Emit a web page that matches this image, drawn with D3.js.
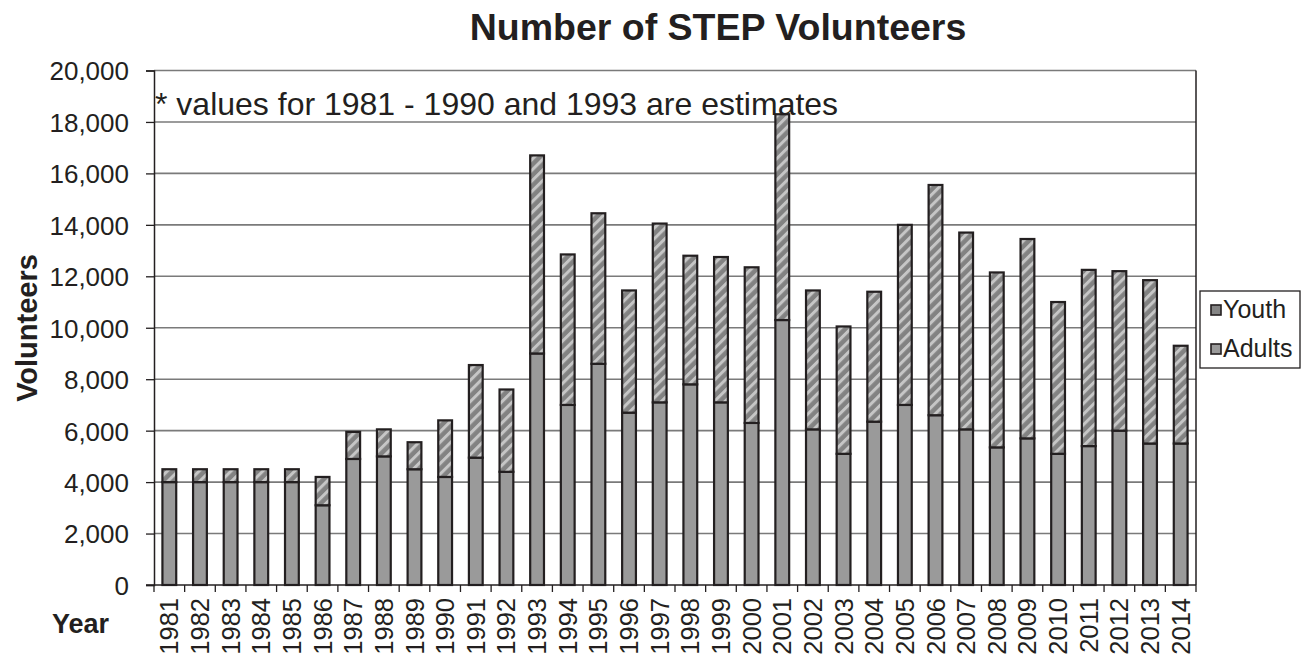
<!DOCTYPE html>
<html><head><meta charset="utf-8">
<script src="https://cdn.jsdelivr.net/npm/d3@7"></script>
<style>body{margin:0;background:#fff}svg{display:block;font-family:Arial,"Liberation Sans",sans-serif}</style>
</head><body><svg id="c" width="1306" height="662"></svg>
<script>
const years = ["1981","1982","1983","1984","1985","1986","1987","1988","1989","1990","1991","1992","1993","1994","1995","1996","1997","1998","1999","2000","2001","2002","2003","2004","2005","2006","2007","2008","2009","2010","2011","2012","2013","2014"];
const adults = [4000,4000,4000,4000,4000,3100,4900,5000,4500,4200,4950,4400,9000,7000,8600,6700,7100,7800,7100,6300,10300,6050,5100,6350,7000,6600,6050,5350,5700,5100,5400,6000,5500,5500];
const youth = [500,500,500,500,500,1100,1050,1050,1050,2200,3600,3200,7700,5850,5850,4750,6950,5000,5650,6050,8000,5400,4950,5050,7000,8950,7650,6800,7750,5900,6850,6200,6350,3800];
const yTicks = [0,2000,4000,6000,8000,10000,12000,14000,16000,18000,20000];
const seriesNames = ["Youth","Adults"];

const FONT = "Arial, 'Liberation Sans', sans-serif";
const INK = "#231f20";
const svg = d3.select("#c");
const L=154, R=1196, T=70.5, B=585;
const x = d3.scaleBand().domain(years).range([L,R]).paddingInner(0.55).paddingOuter(0.275);
const y = d3.scaleLinear().domain([0,20000]).range([B,T]);

const defs = svg.append("defs");
const pat = defs.append("pattern").attr("id","hatch").attr("patternUnits","userSpaceOnUse")
  .attr("width",7.5).attr("height",7.5).attr("patternTransform","rotate(45)");
pat.append("rect").attr("width",7.5).attr("height",7.5).attr("fill","#828282");
pat.append("rect").attr("x",0).attr("width",3).attr("height",7.5).attr("fill","#c6c6c6");

// gridlines
svg.append("g").selectAll("line").data(yTicks.filter(d=>d>0)).join("line")
  .attr("x1",L).attr("x2",R).attr("y1",d=>y(d)).attr("y2",d=>y(d))
  .attr("stroke","#7a7a7a").attr("stroke-width",1.6);

// y axis
const ya = svg.append("g").attr("transform",`translate(${L},0)`)
  .call(d3.axisLeft(y).tickValues(yTicks).tickFormat(d3.format(",")).tickSize(8).tickPadding(17));
ya.select(".domain").attr("stroke",INK).attr("stroke-width",1.5);
ya.selectAll(".tick line").attr("stroke",INK).attr("stroke-width",1.3);
ya.selectAll("text").attr("font-size",26).attr("fill",INK).attr("font-family",FONT).attr("dy","0.36em");

// right border
svg.append("line").attr("x1",R).attr("x2",R).attr("y1",T).attr("y2",B).attr("stroke",INK).attr("stroke-width",1.5);

// bars
const stack = years.map((yr,i)=>({yr, a:adults[i], t:adults[i]+youth[i]}));
const g = svg.append("g");
g.selectAll("rect.ad").data(stack).join("rect").attr("class","ad")
  .attr("x",d=>x(d.yr)).attr("width",x.bandwidth()).attr("y",d=>y(d.a)).attr("height",d=>B-y(d.a))
  .attr("fill","#9a9a9a").attr("stroke",INK).attr("stroke-width",2.2);
g.selectAll("rect.yo").data(stack).join("rect").attr("class","yo")
  .attr("x",d=>x(d.yr)).attr("width",x.bandwidth()).attr("y",d=>y(d.t)).attr("height",d=>y(d.a)-y(d.t))
  .attr("fill","url(#hatch)").attr("stroke",INK).attr("stroke-width",2.2);

// x axis
const xa = svg.append("g").attr("transform",`translate(0,${B})`)
  .call(d3.axisBottom(x).tickSize(0).tickPadding(0));
xa.select(".domain").remove();
svg.append("line").attr("x1",L-8).attr("x2",R).attr("y1",B).attr("y2",B).attr("stroke",INK).attr("stroke-width",1.5);
const bounds = years.map((d,i)=>L + (R-L)*i/years.length).concat([R]);
svg.append("g").selectAll("line").data(bounds).join("line")
  .attr("x1",d=>d).attr("x2",d=>d).attr("y1",B).attr("y2",B+7).attr("stroke",INK).attr("stroke-width",1.3);
xa.selectAll(".tick text").attr("font-size",25.5).attr("fill",INK)
  .attr("font-family",FONT)
  .attr("text-anchor","end").attr("dy",null)
  .attr("transform","translate(9,13) rotate(-90)");

// title & labels
svg.append("text").attr("x",718).attr("y",40).attr("text-anchor","middle").attr("font-size",37.5).attr("font-weight","bold").attr("fill",INK).text("Number of STEP Volunteers");
svg.append("text").attr("x",155).attr("y",115).attr("font-size",32).attr("fill",INK).text("* values for 1981 - 1990 and 1993 are estimates");
svg.append("text").attr("transform","translate(37,328) rotate(-90)").attr("text-anchor","middle").attr("font-size",29).attr("font-weight","bold").attr("fill",INK).text("Volunteers");
svg.append("text").attr("x",52).attr("y",633).attr("font-size",27).attr("font-weight","bold").attr("fill",INK).text("Year");

// legend
const lg = svg.append("g");
lg.append("rect").attr("x",1200).attr("y",291).attr("width",100).attr("height",77).attr("fill","#fff").attr("stroke",INK).attr("stroke-width",1.3);
const sw = ["#858585","#9a9a9a"];
seriesNames.forEach((n,i)=>{
  const base = 318 + i*39;
  lg.append("rect").attr("x",1211).attr("y",base-13).attr("width",10).attr("height",10).attr("fill",sw[i]).attr("stroke",INK).attr("stroke-width",1.6);
  lg.append("text").attr("x",1223).attr("y",base).attr("font-size",25).attr("fill",INK).text(n);
});
</script></body></html>
